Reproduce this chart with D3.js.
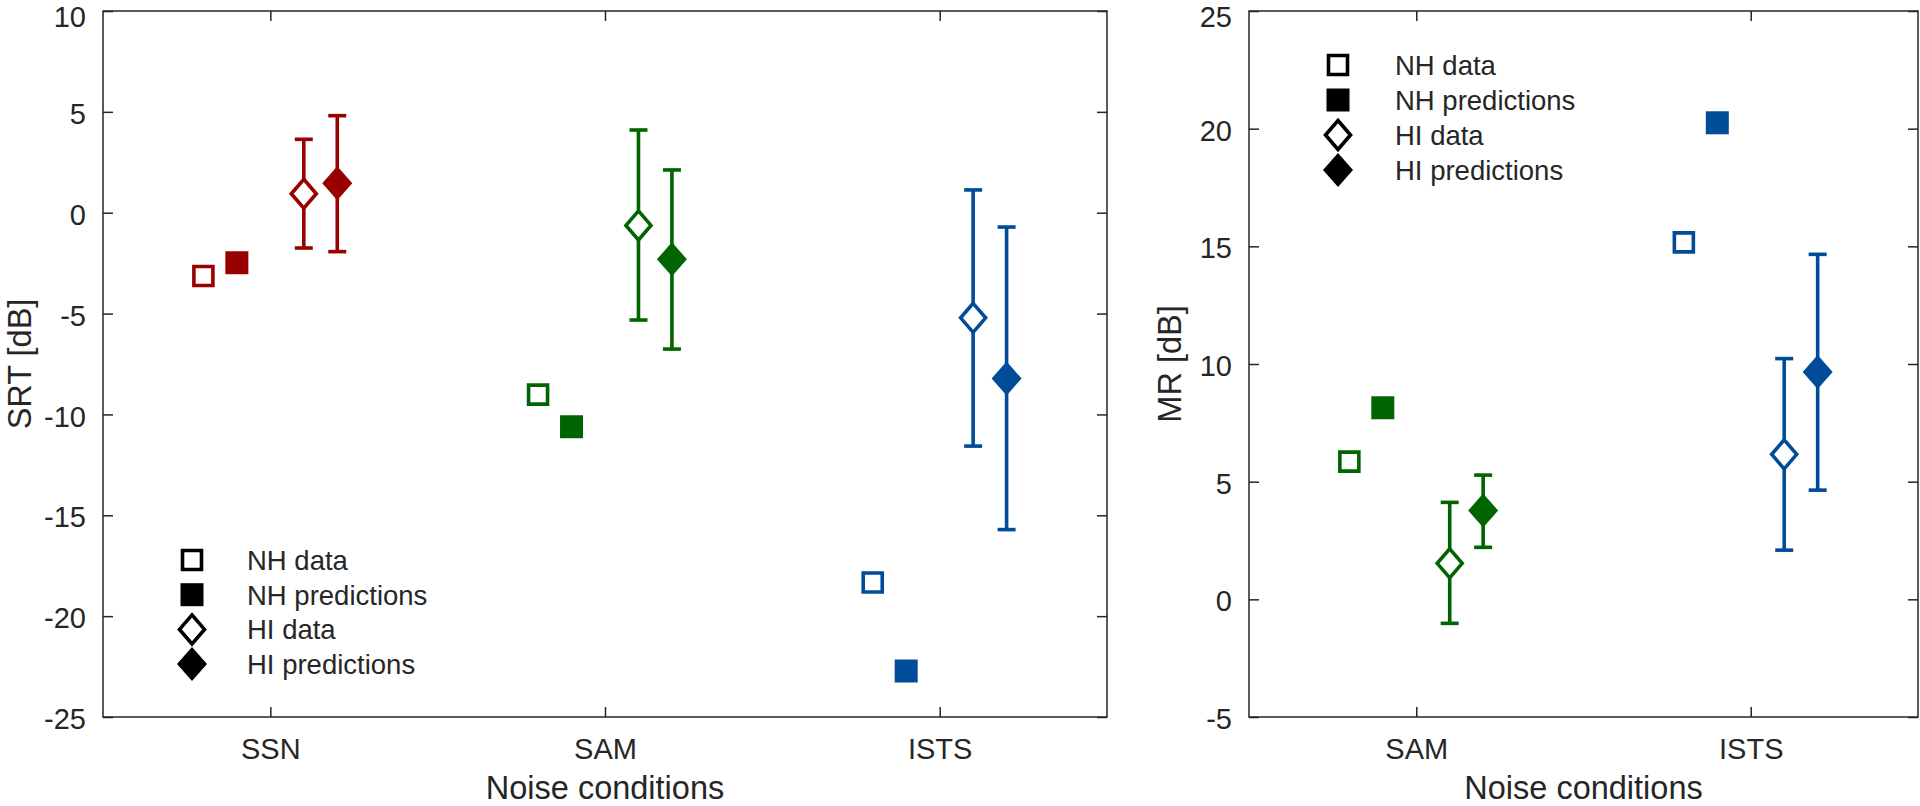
<!DOCTYPE html>
<html>
<head>
<meta charset="utf-8">
<script src="https://cdn.jsdelivr.net/npm/d3@7"></script>
<style>
  html, body { margin: 0; padding: 0; background: #fff; }
  svg { display: block; }
  text { font-family: "Liberation Sans", Arial, Helvetica, sans-serif; fill: #262626; }
</style>
</head>
<body>
<svg id="chart" width="1920" height="806"></svg>
<script>
// ---------- data ----------
const leftCategories = ["SSN", "SAM", "ISTS"];
const leftColors = ["#990000", "#006400", "#004c99"];
const leftNHData = [-3.14, -9.02, -18.33];
const leftNHPred = [-2.48, -10.61, -22.72];
const leftHIData = [0.94, -0.63, -5.21];
const leftHIDataLow = [-1.75, -5.32, -11.57];
const leftHIDataHigh = [3.64, 4.10, 1.13];
const leftHIPred = [1.46, -2.31, -8.22];
const leftHIPredLow = [-1.93, -6.76, -15.71];
const leftHIPredHigh = [4.81, 2.12, -0.71];
const leftYTicks = [-25, -20, -15, -10, -5, 0, 5, 10];

const rightCategories = ["SAM", "ISTS"];
const rightColors = ["#006400", "#004c99"];
const rightNHData = [5.85, 15.17];
const rightNHPred = [8.14, 20.25];
const rightHIData = [1.53, 6.16];
const rightHIDataLow = [-1.02, 2.09];
const rightHIDataHigh = [4.12, 10.23];
const rightHIPred = [3.77, 9.66];
const rightHIPredLow = [2.21, 4.64];
const rightHIPredHigh = [5.28, 14.66];
const rightYTicks = [-5, 0, 5, 10, 15, 20, 25];

const legendLabels = ["NH data", "NH predictions", "HI data", "HI predictions"];
const xLabel = "Noise conditions";

// ---------- drawing ----------
const svg = d3.select("#chart");
const axisColor = "#262626";
const TICK_FONT = 29;
const LABEL_FONT = 32.5;
const LEGEND_FONT = 27.5;

function squarePath(h) { return `M${-h},${-h}H${h}V${h}H${-h}Z`; }
function diamondPath(w, h) { return `M0,${-h}L${w},0L0,${h}L${-w},0Z`; }

function drawMarker(g, type, x, y, color) {
  if (type === 0) { // open square
    g.append("path").attr("d", squarePath(9.5)).attr("transform", `translate(${x},${y})`)
      .attr("fill", "#fff").attr("stroke", color).attr("stroke-width", 3.6);
  } else if (type === 1) { // filled square
    g.append("path").attr("d", squarePath(11.5)).attr("transform", `translate(${x},${y})`)
      .attr("fill", color).attr("stroke", "none");
  } else if (type === 2) { // open diamond
    g.append("path").attr("d", diamondPath(12.5, 14.5)).attr("transform", `translate(${x},${y})`)
      .attr("fill", "#fff").attr("stroke", color).attr("stroke-width", 3.6);
  } else { // filled diamond
    g.append("path").attr("d", diamondPath(15, 17)).attr("transform", `translate(${x},${y})`)
      .attr("fill", color).attr("stroke", "none");
  }
}

const fmt = d => String(d); // hyphen-minus like the reference

function panel(cfg) {
  const { left, right, top, bottom, cats, colors, yDomain, yTicks, yLabel, yLabelX,
          nhData, nhPred, hiData, hiLow, hiHigh, hiPred, hpLow, hpHigh, legend } = cfg;
  const x = d3.scaleLinear().domain([0.5, cats.length + 0.5]).range([left, right]);
  const y = d3.scaleLinear().domain(yDomain).range([bottom, top]);
  const g = svg.append("g");
  const idx = cats.map((c, i) => i + 1);

  // axes
  const ax = g.append("g").attr("class", "axes");
  const yAxis = d3.axisLeft(y).tickValues(yTicks).tickFormat(fmt).tickSizeInner(-10).tickSizeOuter(0).tickPadding(17);
  const yAxisR = d3.axisRight(y).tickValues(yTicks).tickSizeInner(-10).tickSizeOuter(0).tickFormat("");
  const xAxis = d3.axisBottom(x).tickValues(idx).tickFormat(d => cats[d - 1]).tickSizeInner(-10).tickSizeOuter(0).tickPadding(21);
  const xAxisT = d3.axisTop(x).tickValues(idx).tickSizeInner(-10).tickSizeOuter(0).tickFormat("");
  const gy = ax.append("g").attr("transform", `translate(${left},0)`).call(yAxis);
  const gyr = ax.append("g").attr("transform", `translate(${right},0)`).call(yAxisR);
  const gx = ax.append("g").attr("transform", `translate(0,${bottom})`).call(xAxis);
  const gxt = ax.append("g").attr("transform", `translate(0,${top})`).call(xAxisT);
  [gy, gyr, gx, gxt].forEach(gg => {
    gg.select(".domain").remove();
    gg.selectAll("line").attr("stroke", axisColor).attr("stroke-width", 1.5);
    gg.selectAll("text").style("font-size", TICK_FONT + "px").attr("fill", axisColor)
      .style("font-family", '"Liberation Sans", Arial, Helvetica, sans-serif');
  });
  // keep the topmost tick label inside the picture
  gy.selectAll(".tick text").attr("dy", d => d === yDomain[1] ? "0.52em" : "0.40em");
  ax.append("rect").attr("x", left).attr("y", top).attr("width", right - left).attr("height", bottom - top)
    .attr("fill", "none").attr("stroke", axisColor).attr("stroke-width", 1.5);

  // labels
  g.append("text").attr("x", (left + right) / 2).attr("y", 799).attr("text-anchor", "middle")
    .style("font-size", LABEL_FONT + "px").text(xLabel);
  g.append("text").attr("transform", `translate(${yLabelX},${(top + bottom) / 2}) rotate(-90)`)
    .attr("text-anchor", "middle").style("font-size", LABEL_FONT + "px").text(yLabel);

  // data
  const marks = g.append("g");
  const cap = 9;
  cats.forEach((c, i) => {
    const col = colors[i];
    const xc = i + 1;
    [[xc + 0.1, hiLow[i], hiHigh[i]], [xc + 0.2, hpLow[i], hpHigh[i]]].forEach(([xv, lo, hi]) => {
      const px = x(xv);
      marks.append("line").attr("x1", px).attr("x2", px).attr("y1", y(lo)).attr("y2", y(hi))
        .attr("stroke", col).attr("stroke-width", 3.6);
      [lo, hi].forEach(v => {
        marks.append("line").attr("x1", px - cap).attr("x2", px + cap).attr("y1", y(v)).attr("y2", y(v))
          .attr("stroke", col).attr("stroke-width", 3.6);
      });
    });
    drawMarker(marks, 0, x(xc - 0.2), y(nhData[i]), col);
    drawMarker(marks, 1, x(xc - 0.1), y(nhPred[i]), col);
    drawMarker(marks, 2, x(xc + 0.1), y(hiData[i]), col);
    drawMarker(marks, 3, x(xc + 0.2), y(hiPred[i]), col);
  });

  // legend
  const lg = g.append("g");
  legendLabels.forEach((lab, k) => {
    const yy = legend.y0 + k * legend.dy;
    drawMarker(lg, k, legend.mx, yy, "#000");
    lg.append("text").attr("x", legend.tx).attr("y", yy).attr("dy", "0.36em")
      .style("font-size", LEGEND_FONT + "px").attr("fill", "#000").text(lab);
  });
}

panel({
  left: 103, right: 1107, top: 11, bottom: 717,
  cats: leftCategories, colors: leftColors, yDomain: [-25, 10], yTicks: leftYTicks,
  yLabel: "SRT [dB]", yLabelX: 31,
  nhData: leftNHData, nhPred: leftNHPred, hiData: leftHIData, hiLow: leftHIDataLow, hiHigh: leftHIDataHigh,
  hiPred: leftHIPred, hpLow: leftHIPredLow, hpHigh: leftHIPredHigh,
  legend: { mx: 192, tx: 247, y0: 560, dy: 34.7 }
});

panel({
  left: 1249, right: 1918, top: 11, bottom: 717,
  cats: rightCategories, colors: rightColors, yDomain: [-5, 25], yTicks: rightYTicks,
  yLabel: "MR [dB]", yLabelX: 1181,
  nhData: rightNHData, nhPred: rightNHPred, hiData: rightHIData, hiLow: rightHIDataLow, hiHigh: rightHIDataHigh,
  hiPred: rightHIPred, hpLow: rightHIPredLow, hpHigh: rightHIPredHigh,
  legend: { mx: 1338, tx: 1395, y0: 65, dy: 35 }
});
</script>
</body>
</html>
